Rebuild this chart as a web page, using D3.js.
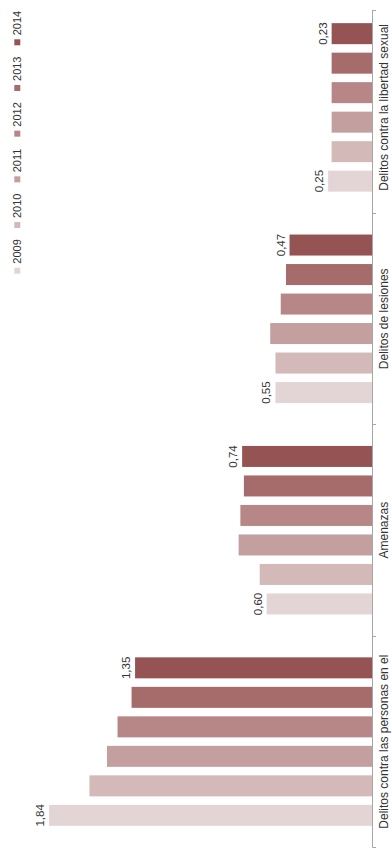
<!DOCTYPE html>
<html>
<head>
<meta charset="utf-8">
<script src="https://cdn.jsdelivr.net/npm/d3@7"></script>
<style>
  html, body { margin: 0; padding: 0; background: #ffffff; }
  svg { display: block; }
  text { font-family: "Liberation Sans", Arial, sans-serif; fill: #333333; }
</style>
</head>
<body>
<svg id="chart" width="392" height="850"></svg>
<script>
// ---- Data ----
const categories = [
  "Delitos contra las personas en el",
  "Amenazas",
  "Delitos de lesiones",
  "Delitos contra la libertad sexual"
];
const years = ["2009", "2010", "2011", "2012", "2013", "2014"];
const personas = [1.84, 1.61, 1.51, 1.45, 1.37, 1.35];
const amenazas = [0.60, 0.64, 0.76, 0.75, 0.73, 0.74];
const lesiones = [0.55, 0.55, 0.58, 0.52, 0.49, 0.47];
const sexual   = [0.25, 0.23, 0.23, 0.23, 0.23, 0.23];
const seriesByCategory = [personas, amenazas, lesiones, sexual];
const yearColors = ["#e3d5d5", "#d4b9b9", "#c49f9f", "#b78686", "#a66c6c", "#955353"];
const labelledYears = ["2009", "2014"];

// ---- Layout (chart rotated: values grow to the left) ----
const svg = d3.select("#chart");
const axisX = 372;
const x = d3.scaleLinear().domain([0, 2]).range([axisX, axisX - 351]);

const yCat = d3.scaleBand().domain(categories).range([847.3, 1.7]);
const yYear = d3.scaleBand().domain(years)
  .range([yCat.bandwidth(), 0])
  .paddingInner(0.288).paddingOuter(0.727);
const color = d3.scaleOrdinal().domain(years).range(yearColors);

const fmt = v => d3.format(".2f")(v).replace(".", ",");

const rows = [];
categories.forEach((c, ci) => {
  years.forEach((yr, yi) => rows.push({ cat: c, year: yr, value: seriesByCategory[ci][yi] }));
});

// Bars
svg.append("g").selectAll("rect").data(rows).join("rect")
  .attr("x", d => x(d.value))
  .attr("y", d => yCat(d.cat) + yYear(d.year))
  .attr("width", d => x(0) - x(d.value))
  .attr("height", yYear.bandwidth())
  .attr("fill", d => color(d.year));

// Value labels (first & last year)
svg.append("g").selectAll("text").data(rows.filter(d => labelledYears.includes(d.year))).join("text")
  .attr("transform", d => `translate(${x(d.value) - 5},${yCat(d.cat) + yYear(d.year) + yYear.bandwidth() / 2}) rotate(-90)`)
  .attr("text-anchor", "middle")
  .attr("font-size", 11.5)
  .text(d => fmt(d.value));

// Category axis
const axisG = svg.append("g");
axisG.append("line")
  .attr("x1", axisX + 0.5).attr("x2", axisX + 0.5)
  .attr("y1", 10).attr("y2", 847.5)
  .attr("stroke", "#a6a6a6").attr("stroke-width", 1);
const bounds = [10].concat(categories.slice(0, 3).map(c => yCat(c))).concat([847]);
axisG.selectAll("line.tick").data(bounds).join("line")
  .attr("class", "tick")
  .attr("x1", axisX + 0.5).attr("x2", axisX + 4)
  .attr("y1", d => Math.round(d) + 0.5).attr("y2", d => Math.round(d) + 0.5)
  .attr("stroke", "#a6a6a6").attr("stroke-width", 1);
axisG.selectAll("text").data(categories).join("text")
  .attr("transform", c => `translate(387.5,${yCat(c) + yCat.bandwidth() / 2}) rotate(-90)`)
  .attr("text-anchor", "middle")
  .attr("font-size", 12)
  .text(c => c);

// Legend
const legend = svg.append("g");
const legendY = d3.scalePoint().domain(years).range([267.7, 39.3]);
const items = legend.selectAll("g").data(years).join("g");
items.append("rect")
  .attr("x", 14.3).attr("y", d => legendY(d))
  .attr("width", 6).attr("height", 6)
  .attr("fill", d => color(d));
items.append("text")
  .attr("transform", d => `translate(20.7,${legendY(d) - 4}) rotate(-90)`)
  .attr("font-size", 11)
  .text(d => d);
</script>
</body>
</html>
